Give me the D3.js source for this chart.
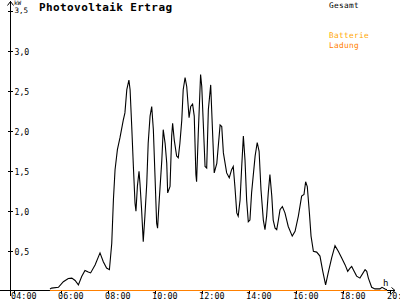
<!DOCTYPE html>
<html>
<head>
<meta charset="utf-8">
<script src="https://cdn.jsdelivr.net/npm/d3@7"></script>
<style>
  html, body { margin: 0; padding: 0; background: #fff; }
  svg { display: block; }
  text { font-family: "DejaVu Sans Mono", "Liberation Mono", monospace; }
</style>
</head>
<body>
<script>
// ---- data ----
const title = "Photovoltaik Ertrag";
const seriesNames = ["Gesamt", "Batterie", "Ladung"];
const yTicks = [0.5, 1.0, 1.5, 2.0, 2.5, 3.0, 3.5];
const xTicks = [4, 6, 8, 10, 12, 14, 16, 18, 20];
const xTickLabels = ["04:00", "06:00", "08:00", "10:00", "12:00", "14:00", "16:00", "18:00", "20:00"];

// Gesamt (kW) vs time (decimal hours)
const gesamtHours = [5.53, 5.60, 5.89, 6.10, 6.31, 6.46, 6.60, 6.74, 6.88, 7.02, 7.16, 7.26, 7.45, 7.66, 7.80, 7.94, 8.06, 8.16, 8.23, 8.30, 8.40, 8.51, 8.65, 8.72, 8.80, 8.89, 8.94, 9.01, 9.08, 9.15, 9.19, 9.25, 9.32, 9.36, 9.43, 9.50, 9.57, 9.65, 9.71, 9.79, 9.86, 9.93, 10.00, 10.07, 10.11, 10.18, 10.29, 10.35, 10.43, 10.50, 10.54, 10.64, 10.71, 10.75, 10.82, 10.92, 10.99, 11.06, 11.14, 11.20, 11.28, 11.35, 11.45, 11.52, 11.60, 11.67, 11.74, 11.77, 11.84, 11.94, 11.99, 12.13, 12.20, 12.27, 12.37, 12.44, 12.52, 12.63, 12.77, 12.84, 12.91, 13.05, 13.16, 13.26, 13.33, 13.40, 13.48, 13.54, 13.62, 13.69, 13.76, 13.83, 13.90, 13.97, 14.04, 14.11, 14.26, 14.35, 14.43, 14.51, 14.61, 14.68, 14.75, 14.82, 14.89, 14.97, 15.03, 15.11, 15.18, 15.25, 15.32, 15.42, 15.53, 15.67, 15.84, 15.96, 16.10, 16.24, 16.34, 16.41, 16.48, 16.57, 16.64, 16.74, 16.88, 17.02, 17.14, 17.26, 17.37, 17.52, 17.66, 17.80, 17.94, 18.09, 18.20, 18.30, 18.37, 18.44, 18.58, 18.72, 18.94, 19.01, 19.08, 19.22, 19.36, 19.57, 19.66, 19.79, 19.87];
const gesamt = [0.02, 0.03, 0.04, 0.11, 0.15, 0.155, 0.125, 0.07, 0.175, 0.25, 0.23, 0.22, 0.32, 0.47, 0.36, 0.28, 0.26, 0.59, 1.13, 1.51, 1.76, 1.91, 2.13, 2.22, 2.51, 2.63, 2.51, 2.05, 1.55, 1.09, 0.99, 1.30, 1.49, 1.34, 1.01, 0.61, 0.93, 1.34, 1.84, 2.18, 2.30, 2.01, 1.43, 0.84, 0.78, 1.13, 1.63, 2.01, 1.84, 1.59, 1.22, 1.30, 1.93, 2.09, 1.88, 1.68, 1.66, 1.84, 2.13, 2.51, 2.66, 2.55, 2.16, 2.30, 2.33, 2.18, 1.45, 1.36, 1.95, 2.70, 2.55, 1.55, 1.53, 2.26, 2.57, 2.05, 1.47, 1.59, 2.07, 2.05, 1.72, 1.47, 1.41, 1.51, 1.55, 1.30, 0.97, 0.93, 1.13, 1.55, 1.93, 1.63, 1.13, 0.86, 0.88, 1.22, 1.68, 1.85, 1.74, 1.26, 0.88, 0.76, 0.93, 1.22, 1.45, 1.18, 0.88, 0.78, 0.76, 0.88, 1.01, 1.05, 0.97, 0.80, 0.68, 0.74, 0.93, 1.18, 1.20, 1.36, 1.30, 0.97, 0.68, 0.49, 0.48, 0.43, 0.24, 0.07, 0.22, 0.41, 0.56, 0.49, 0.41, 0.32, 0.24, 0.28, 0.30, 0.26, 0.18, 0.155, 0.26, 0.24, 0.155, 0.04, 0.02, 0.02, 0.04, 0.02, 0.01];

// Batterie and Ladung (kW) — zero over the day
const batterieHours = [5.53, 19.87];
const batterie = [0, 0];
const ladungHours = [5.53, 19.87];
const ladung = [0, 0];

// ---- chart ----
const W = 400, H = 300;
const colors = { Gesamt: "#000000", Batterie: "#ffa800", Ladung: "#ff8000" };

const svg = d3.select("body").append("svg").attr("width", W).attr("height", H);

const x = d3.scaleLinear().domain([4, 20]).range([14, 390]);
const y = d3.scaleLinear().domain([0, 3.5]).range([290.5, 10.5]);

// axes lines
const ax = svg.append("g").attr("shape-rendering", "crispEdges").attr("stroke", "#000").attr("stroke-width", 1);
ax.append("line").attr("x1", 10.5).attr("x2", 10.5).attr("y1", 1).attr("y2", 296);
ax.append("line").attr("x1", 0).attr("x2", 395).attr("y1", 290.5).attr("y2", 290.5);

// arrows
svg.append("path").attr("d", "M7.5,5.5 L10.5,1.5 L13.5,5.5").attr("fill", "none").attr("stroke", "#000");
svg.append("path").attr("d", "M391.5,287.5 L395,290.5 L391.5,293.5").attr("fill", "none").attr("stroke", "#000");

// y ticks
const yg = svg.append("g");
yTicks.forEach(v => {
  const yy = Math.round(y(v)) + 0.5;
  yg.append("line").attr("x1", 8).attr("x2", 13).attr("y1", yy).attr("y2", yy)
    .attr("stroke", "#000").attr("shape-rendering", "crispEdges");
  const top = v === 3.5;
  yg.append("text").attr("x", 14.5).attr("y", top ? 13 : yy + 3)
    .attr("font-size", top ? 7.5 : 8.2).attr("fill", "#000")
    .text(d3.format(".1f")(v).replace(".", ","));
});
svg.append("text").attr("x", 14).attr("y", 4.5).attr("font-size", 6).attr("fill", "#000").text("kW");

// x ticks
const xg = svg.append("g");
xTicks.forEach((v, i) => {
  const xx = Math.round(x(v)) + 0.5;
  xg.append("line").attr("x1", xx).attr("x2", xx).attr("y1", 290).attr("y2", 294)
    .attr("stroke", "#000").attr("shape-rendering", "crispEdges");
  xg.append("text").attr("x", xx - 3.5).attr("y", 299)
    .attr("font-size", 8.4).attr("letter-spacing", 0.1).attr("fill", "#000")
    .text(xTickLabels[i]);
});
svg.append("text").attr("x", 383).attr("y", 286).attr("font-size", 9).attr("fill", "#000").text("h");

// series
const line = d3.line().x(d => x(d[0])).y(d => y(d[1]));
svg.append("path").datum(batterieHours.map((h, i) => [h, batterie[i]]))
  .attr("d", line).attr("fill", "none").attr("stroke", colors.Batterie).attr("stroke-width", 1.2);
svg.append("path").datum(ladungHours.map((h, i) => [h, ladung[i]]))
  .attr("d", line).attr("fill", "none").attr("stroke", colors.Ladung).attr("stroke-width", 1.2);
svg.append("path").datum(gesamtHours.map((h, i) => [h, gesamt[i]]))
  .attr("d", line).attr("fill", "none").attr("stroke", colors.Gesamt).attr("stroke-width", 1.1);

// title
svg.append("text").attr("x", 39).attr("y", 11).attr("font-size", 11).attr("font-weight", "bold")
  .attr("letter-spacing", 0.4).attr("fill", "#000").text(title);

// legend
const legendY = { Gesamt: 8, Batterie: 38, Ladung: 47.5 };
seriesNames.forEach(n => {
  svg.append("text").attr("x", 329).attr("y", legendY[n]).attr("font-size", 7.8)
    .attr("letter-spacing", 0.3).attr("fill", colors[n]).text(n);
});
</script>
</body>
</html>
